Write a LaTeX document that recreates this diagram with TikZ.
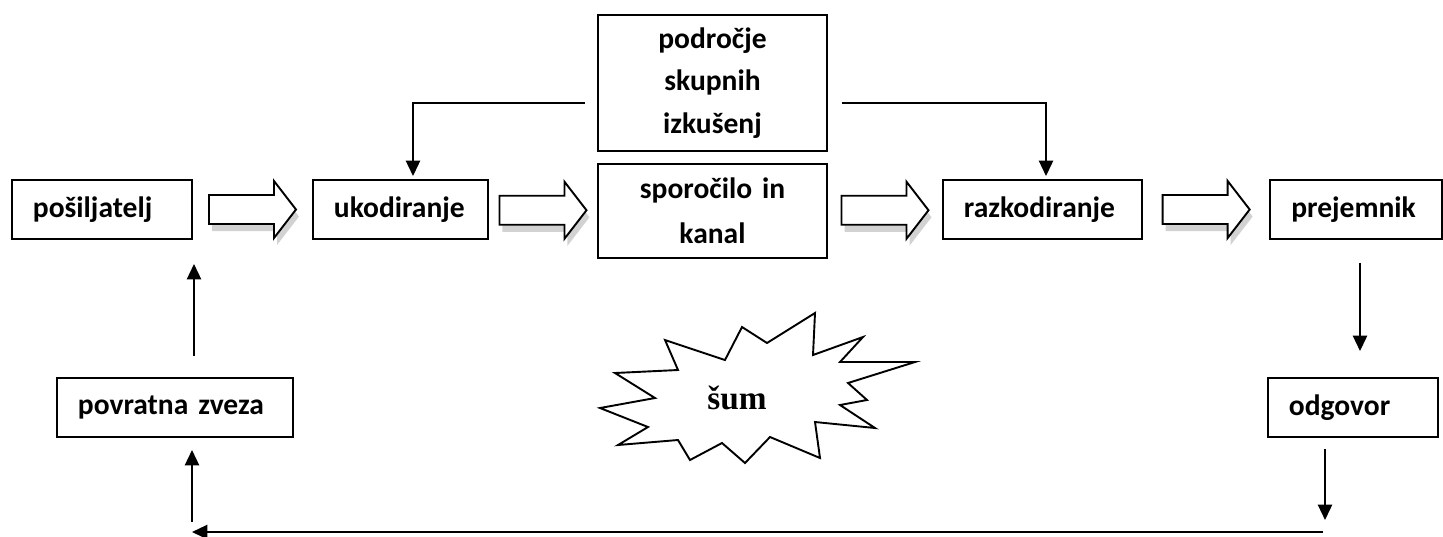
\documentclass[tikz,border=0pt]{standalone}
\usepackage{fontspec}
\setmainfont[WordSpace=0.6]{Carlito}
\newfontfamily\noisefont{Liberation Serif}
\usetikzlibrary{arrows.meta,calc,positioning}
\tikzset{
    box/.style={
        draw, line width=0.8pt, font=\bfseries\fontsize{12.4}{14.4}\selectfont,
        minimum height=24.8pt, inner xsep=8.8pt,
        text width=#1, align=left
    },
    bigbox/.style={
        draw, line width=0.8pt, font=\bfseries\fontsize{12.4}{#1}\selectfont,
        text width=80pt, inner xsep=8.1pt, align=center
    },
    link/.style={
        line width=0.8pt,
        -{Triangle[width=6pt,length=6.5pt]}
    },
    fatarrow/.pic={
        \fill[gray!35] (-40.5,-7.5) -- (24.5,-7.5) -- (24.5,-21.5) -- (46.5,7) -- (24.5,35.5) -- (24.5,21.5) -- (-40.5,21.5) -- cycle;
        \draw[line width=0.8pt, fill=white] (-43.5,-14.5) -- (21.5,-14.5) -- (21.5,-28.5) -- (43.5,0) -- (21.5,28.5) -- (21.5,14.5) -- (-43.5,14.5) -- cycle;
    }
}
\begin{document}
\begin{tikzpicture}[x=0.42pt,y=-0.42pt]
    \useasboundingbox (0,0) rectangle (1443,536);
    % main row
    \node[box=58pt] (posiljatelj) at (102,209.5) {pošiljatelj};
    \node[box=55.9pt] (ukodiranje) at (400.5,209.5) {ukodiranje};
    \node[bigbox=18.8pt, minimum height=39.5pt] (sporocilo) at (712.5,211) {sporočilo in\\kanal};
    \node[bigbox=17.8pt, minimum height=57.1pt] (podrocje) at (712.5,83) {področje\\skupnih\\izkušenj};
    \node[box=66pt] (razkodiranje) at (1042.5,209.5) {razkodiranje};
    \node[box=54.4pt] (prejemnik) at (1356,209.5) {prejemnik};
    % feedback loop
    \node[box=53.8pt] (odgovor) at (1353,407.5) {odgovor};
    \node[box=81.5pt] (povratna) at (175,407.5) {povratna zveza};
    \coordinate (fbR) at (1323,532);
    \coordinate (fbL) at (192,532);

    \foreach \a/\b in {posiljatelj/ukodiranje, ukodiranje/sporocilo, sporocilo/razkodiranje, razkodiranje/prejemnik}
        \pic at ($(\a.east)!0.5!(\b.west)$) {fatarrow};

    \draw[link, shorten <=12*0.42pt, shorten >=3*0.42pt]
        ([yshift=-20*0.42pt]podrocje.west) -| ([xshift=12.5*0.42pt]ukodiranje.north);
    \draw[link, shorten <=14*0.42pt, shorten >=3*0.42pt]
        ([yshift=-20*0.42pt]podrocje.east) -| ([xshift=3.5*0.42pt]razkodiranje.north);

    \draw[link, shorten <=23*0.42pt, shorten >=26*0.42pt]
        ([xshift=4*0.42pt]prejemnik.south) -- ([xshift=4*0.42pt]prejemnik.south |- odgovor.north);
    \draw[link, shorten <=11*0.42pt, shorten >=12*0.42pt]
        ([xshift=-28*0.42pt]odgovor.south) -- ([xshift=-28*0.42pt]odgovor.south |- fbR);
    \draw[link] (fbR) -- (fbL);
    \draw[link, shorten <=10*0.42pt, shorten >=12*0.42pt]
        (fbL) -- (fbL |- povratna.south);
    \draw[link, shorten <=21*0.42pt, shorten >=24*0.42pt]
        ([xshift=19*0.42pt]povratna.north) -- ([xshift=19*0.42pt]povratna.north |- posiljatelj.south);

    % noise
    \draw[line width=0.8pt] (815,313) -- (813,355) -- (863,337) -- (840,362) -- (915,362)
        -- (848,383) -- (867,400) -- (840,405) -- (875,428) -- (815,422) -- (820,458)
        -- (770,437) -- (745,463) -- (722,443) -- (690,460) -- (678,440) -- (618,445)
        -- (648,427) -- (600,408) -- (655,398) -- (615,373) -- (678,370) -- (665,340)
        -- (725,360) -- (742,327) -- (767,343) -- cycle;
    \node[font=\noisefont\bfseries\fontsize{14}{16}\selectfont] (sum) at (737,398) {šum};
\end{tikzpicture}
\end{document}
